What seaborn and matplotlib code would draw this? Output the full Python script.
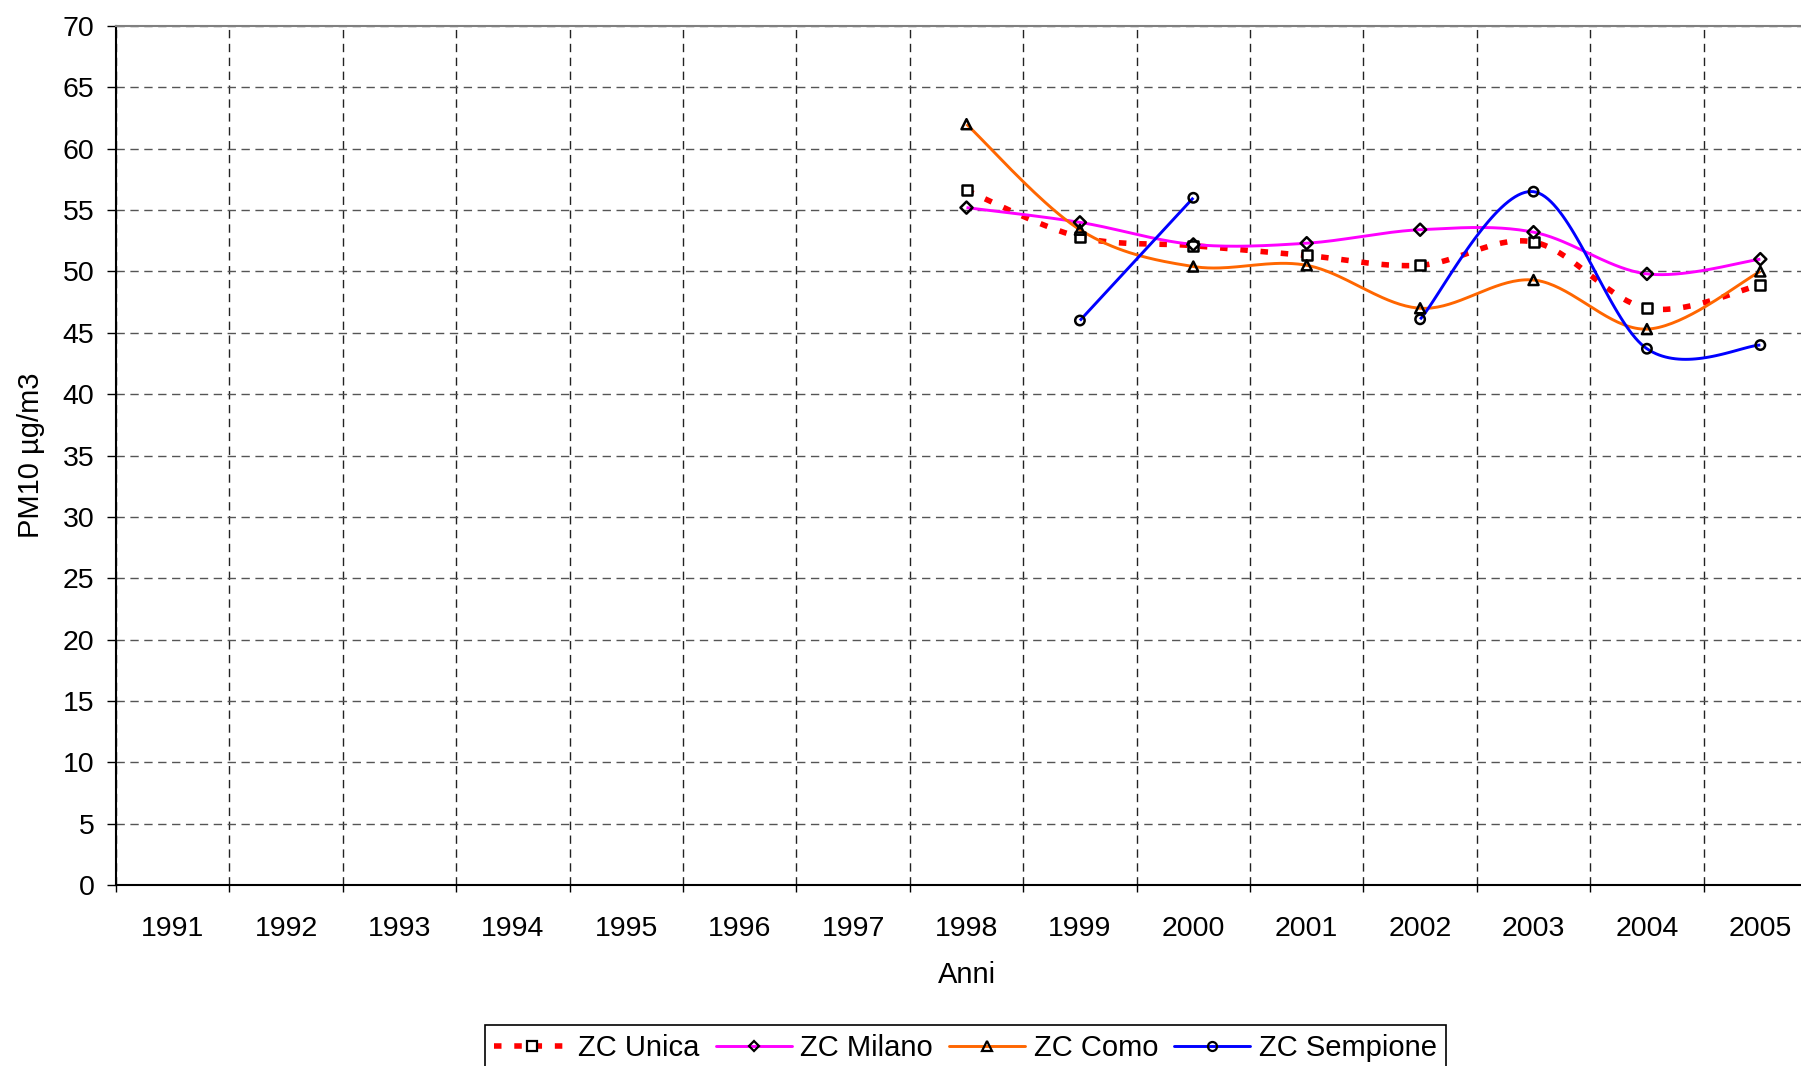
import numpy as np
import pandas as pd
import matplotlib
matplotlib.use("Agg")
import matplotlib.pyplot as plt
from matplotlib.lines import Line2D
import seaborn as sns

nan = np.nan
years = list(range(1991, 2006))
zc_unica = [nan] * 7 + [56.6, 52.8, 52.1, 51.3, 50.5, 52.4, 47.0, 48.9]
zc_milano = [nan] * 7 + [55.2, 54.0, 52.2, 52.3, 53.4, 53.2, 49.8, 51.0]
zc_como = [nan] * 7 + [62.0, 53.4, 50.4, 50.5, 47.0, 49.3, 45.3, 50.0]
zc_sempione = [nan] * 8 + [46.0, 56.0, nan, 46.1, 56.5, 43.7, 44.0]
y_ticks = list(range(0, 75, 5))

sns.set_theme(style="white")
plt.rcParams["font.family"] = ["Liberation Sans", "DejaVu Sans"]

df = pd.DataFrame({"Anno": years, "ZC Unica": zc_unica, "ZC Milano": zc_milano,
                   "ZC Como": zc_como, "ZC Sempione": zc_sempione})


def smooth(xs, ys, n=40):
    """Excel-style smoothed line (cubic Bezier / Catmull-Rom), broken at gaps."""
    xs = np.asarray(xs, float)
    ys = np.asarray(ys, float)
    segs = []
    cur = []
    for x, y in zip(xs, ys):
        if np.isnan(y):
            if cur:
                segs.append(cur)
            cur = []
        else:
            cur.append((x, y))
    if cur:
        segs.append(cur)
    out = []
    for s in segs:
        P = np.array(s)
        m = len(P)
        if m < 2:
            continue
        Pp = np.vstack([P[0], P, P[-1]])
        px, py = [], []
        t = np.linspace(0, 1, n)[:, None]
        for i in range(m - 1):
            p0, p1, p2, p3 = Pp[i], Pp[i + 1], Pp[i + 2], Pp[i + 3]
            b0 = p1
            b1 = p1 + (p2 - p0) / 6.0
            b2 = p2 - (p3 - p1) / 6.0
            b3 = p2
            c = ((1 - t) ** 3) * b0 + 3 * ((1 - t) ** 2) * t * b1 + 3 * (1 - t) * t ** 2 * b2 + t ** 3 * b3
            px.extend(c[:, 0])
            py.extend(c[:, 1])
        out.append((np.array(px), np.array(py)))
    return out


fig = plt.figure(figsize=(18.01, 10.66), dpi=100)
ax = fig.add_axes([0.0644, 0.1698, 0.9445, 0.8058])

series = [
    ("ZC Unica", "#FF0000", "s", "white", 4.0, (1.35, 2.3), 50),
    ("ZC Milano", "#FF00FF", "D", "none", 2.1, None, 38),
    ("ZC Como", "#FF6600", "^", "none", 2.1, None, 52),
    ("ZC Sempione", "#0000FF", "o", "none", 2.1, None, 46),
]

handles = []
for name, color, mk, fc, lw, dashes, ms in series:
    for sx, sy in smooth(df["Anno"], df[name]):
        ln, = ax.plot(sx, sy, color=color, lw=lw, zorder=3, solid_capstyle="butt")
        if dashes:
            ln.set_dashes(dashes)
            ln.set_dash_capstyle("butt")
    sub = df.dropna(subset=[name])
    sns.scatterplot(x=sub["Anno"], y=sub[name], marker=mk, s=ms, facecolor=fc,
                    edgecolor="black", linewidth=1.8, ax=ax, zorder=4)
    h = Line2D([], [], color=color, lw=lw, marker=mk, markersize=6.5 if mk != "D" else 5.5,
               markerfacecolor=fc, markeredgecolor="black", markeredgewidth=1.6)
    if dashes:
        h.set_dashes(dashes)
        h.set_dash_capstyle("butt")
    handles.append(h)

ax.set_xlim(1990.5, 2005.5)
ax.set_ylim(0, 70)
ax.set_yticks(y_ticks)
ax.set_xticks(years)
ax.set_xticklabels([str(y) for y in years])
ax.set_xticks(np.arange(1990.5, 2006, 1.0), minor=True)

ax.grid(False)
ax.yaxis.grid(True, which="major", color="#555555", linestyle=(0, (6, 4)), lw=1.0)
ax.xaxis.grid(True, which="minor", color="#222222", linestyle=(0, (6, 4)), lw=1.0)
ax.set_axisbelow(True)

ax.tick_params(axis="y", which="major", direction="out", length=6.5, width=1.0,
               color="black", labelsize=20.5, pad=9, left=True, labelcolor="black")
ax.tick_params(axis="x", which="major", length=0, labelsize=20.5, pad=22.5, labelcolor="black")
ax.tick_params(axis="x", which="minor", direction="out", length=5, width=1.0,
               color="black", bottom=True)

for side in ["left", "bottom"]:
    ax.spines[side].set_color("black")
    ax.spines[side].set_linewidth(1.5)
ax.spines["top"].set_color("#808080")
ax.spines["top"].set_linewidth(1.5)
ax.spines["right"].set_color("#808080")

ax.set_xlabel("Anni", fontsize=21, color="black")
ax.xaxis.set_label_coords(0.5, -0.1048)
ax.xaxis.label.set_va("center")
ax.set_ylabel("PM10 µg/m3", fontsize=21, color="black")
ax.yaxis.set_label_coords(-0.05, 0.5)
ax.yaxis.label.set_va("center")

leg = fig.legend(handles, [s[0] for s in series], loc="upper center",
                 bbox_to_anchor=(0.536, 0.0385), ncol=4, fontsize=21,
                 frameon=True, fancybox=False, edgecolor="black", framealpha=1,
                 handlelength=2.6, handletextpad=0.3, columnspacing=0.55,
                 borderpad=0.3, borderaxespad=0)
leg.get_frame().set_linewidth(1.2)
for t in leg.get_texts():
    t.set_color("black")

fig.savefig("out.png", dpi=100)
